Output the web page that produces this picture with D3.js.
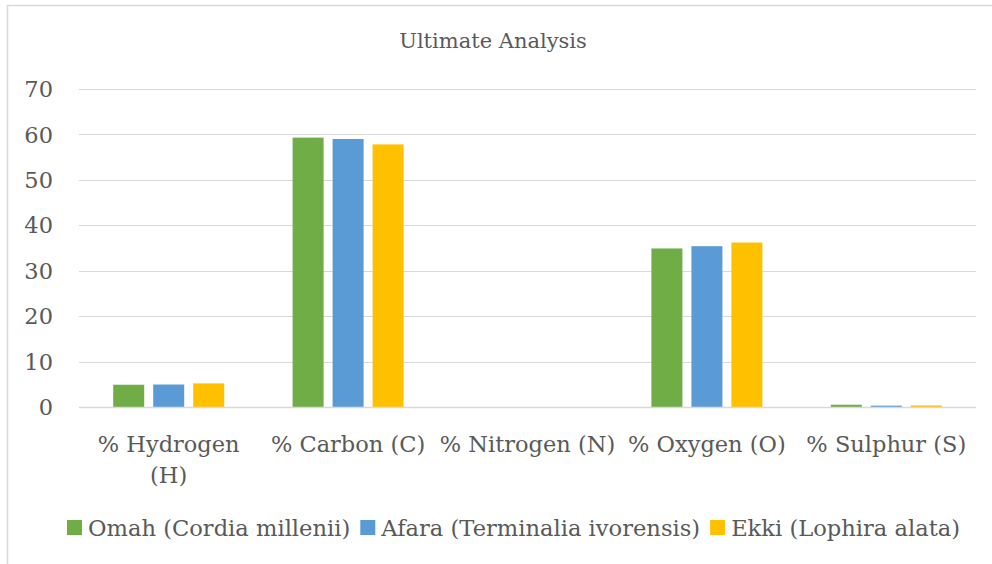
<!DOCTYPE html>
<html><head><meta charset="utf-8">
<script src="https://cdn.jsdelivr.net/npm/d3@7"></script>
<style>
html,body{margin:0;padding:0;background:#fff;}
svg{display:block;}
text{font-family:"DejaVu Serif",serif;fill:#595959;}
</style></head>
<body><svg id="c" width="992" height="564"></svg>
<script>
const title = "Ultimate Analysis";
const categories = ["% Hydrogen (H)", "% Carbon (C)", "% Nitrogen (N)", "% Oxygen (O)", "% Sulphur (S)"];
const seriesNames = ["Omah (Cordia millenii)", "Afara (Terminalia ivorensis)", "Ekki (Lophira alata)"];
const seriesColors = ["#70AD47", "#5B9BD5", "#FFC000"];
const omah  = [4.9, 59.3, 0, 34.9, 0.5];
const afara = [4.95, 59.0, 0, 35.4, 0.3];
const ekki  = [5.2, 57.8, 0, 36.2, 0.35];
const yTicks = [0, 10, 20, 30, 40, 50, 60, 70];

const seriesValues = [omah, afara, ekki];
const svg = d3.select("#c");

// frame
svg.append("path").attr("d","M7.5,570V5.5H1000").attr("fill","none").attr("stroke","#D9D9D9").attr("stroke-width",1.5);

const x = d3.scaleBand().domain(categories).range([79, 976]).paddingInner(0).paddingOuter(0);
const xs = d3.scaleBand().domain(seriesNames).range([-55.5, 55.5]).paddingInner(0.225).paddingOuter(0);
const y = d3.scaleLinear().domain([0, 70]).range([407, 89]);

// gridlines
svg.append("g").selectAll("line").data(yTicks.filter(t=>t>0)).join("line")
  .attr("x1", 79).attr("x2", 976)
  .attr("y1", d=>Math.round(y(d))+0.5).attr("y2", d=>Math.round(y(d))+0.5)
  .attr("stroke", "#D9D9D9").attr("stroke-width", 1);

// y tick labels
svg.append("g").selectAll("text").data(yTicks).join("text")
  .attr("x", 53).attr("y", d=>y(d)).attr("dy","0.36em")
  .attr("text-anchor","end").attr("font-size", 22.5).text(d=>d);

// bars
const rows = categories.map((c,i)=>({c, vals: seriesValues.map((s,j)=>({name: seriesNames[j], v: s[i], color: seriesColors[j]}))}));
const g = svg.append("g").selectAll("g").data(rows).join("g")
  .attr("transform", d=>`translate(${x(d.c)+x.bandwidth()/2},0)`);
g.selectAll("rect").data(d=>d.vals).join("rect")
  .attr("x", d=>xs(d.name)).attr("width", xs.bandwidth())
  .attr("y", d=>y(d.v)).attr("height", d=>y(0)-y(d.v))
  .attr("fill", d=>d.color);

// axis line
svg.append("line").attr("x1",79).attr("x2",976).attr("y1",407.5).attr("y2",407.5)
  .attr("stroke","#D9D9D9").attr("stroke-width",1.5);

// x labels with wrapping
const labelSize = 22.5;
const xl = svg.append("g").selectAll("text").data(categories).join("text")
  .attr("text-anchor","middle").attr("font-size", labelSize)
  .attr("x", d=>x(d)+x.bandwidth()/2).attr("y", 452);
xl.each(function(d){
  const t = d3.select(this);
  const cx = x(d)+x.bandwidth()/2;
  const words = d.split(" ");
  let line = [], lines = [];
  const tmp = t.append("tspan");
  words.forEach(w=>{
    const test = line.concat([w]).join(" ");
    tmp.text(test);
    if (tmp.node().getComputedTextLength() > x.bandwidth()+2 && line.length) {
      lines.push(line.join(" ")); line=[w];
    } else line.push(w);
  });
  lines.push(line.join(" "));
  tmp.remove();
  lines.forEach((l,i)=>t.append("tspan").attr("x",cx).attr("y",452+i*31).text(l));
});

// title
svg.append("text").attr("x", 493).attr("y", 48).attr("text-anchor","middle")
  .attr("font-size", 21).text(title);

// legend
const lg = svg.append("g");
let lx = 67;
seriesNames.forEach((n,i)=>{
  lg.append("rect").attr("x", lx).attr("y", 520).attr("width",15).attr("height",15).attr("fill", seriesColors[i]);
  const t = lg.append("text").attr("x", lx+21).attr("y", 536).attr("font-size", 22.6).text(n);
  lx += 21 + t.node().getComputedTextLength() + 10;
});
</script></body></html>
